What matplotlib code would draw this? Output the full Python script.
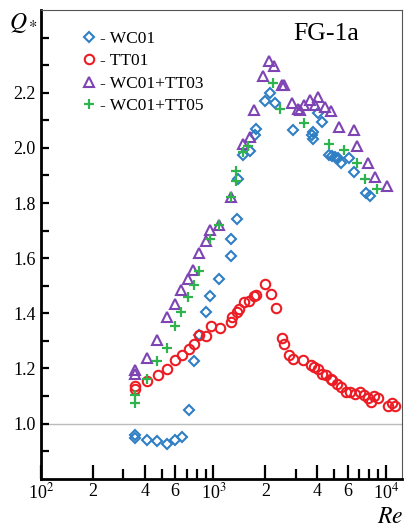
import matplotlib
matplotlib.use("Agg")
import matplotlib.pyplot as plt
from matplotlib.ticker import NullFormatter

plt.rcParams['font.family'] = ['Liberation Serif', 'DejaVu Serif']
plt.rcParams['mathtext.fontset'] = 'stix'

# WC01
wc01_re = [351, 351, 410, 472, 536, 597, 657, 719, 776, 829, 907, 956, 1084, 1268, 1268,
           1368, 1397, 1493, 1619, 1746, 1760, 1995, 2135, 2281, 2912, 3740, 3800, 3800,
           4067, 4260, 4650, 4860, 5070, 5300, 5510, 6080, 6500, 7690, 8040]
wc01_q = [0.958, 0.946, 0.939, 0.937, 0.925, 0.942, 0.951, 1.048, 1.227, 1.320, 1.405, 1.462,
          1.526, 1.607, 1.668, 1.742, 1.889, 1.974, 1.989, 2.046, 2.067, 2.170, 2.200, 2.162,
          2.065, 2.046, 2.058, 2.034, 2.125, 2.095, 1.974, 1.970, 1.968, 1.962, 1.944, 1.962,
          1.913, 1.835, 1.825]

# TT01
tt01_re = [351, 351, 410, 475, 536, 597, 661, 719, 776, 829, 907, 967, 1094, 1262, 1289, 1367,
           1409, 1513, 1612, 1723, 1754, 1995, 2153, 2291, 2495, 2572, 2761, 2890, 3318, 3676,
           3805, 4067, 4272, 4490, 4820, 4900, 5200, 5480, 5890, 6210, 6640, 7100, 7490, 7830,
           8190, 8480, 8950, 10230, 10850, 11230]
tt01_q = [1.125, 1.135, 1.155, 1.175, 1.198, 1.231, 1.249, 1.272, 1.290, 1.320, 1.317, 1.354,
          1.348, 1.369, 1.385, 1.405, 1.414, 1.440, 1.445, 1.462, 1.467, 1.508, 1.469, 1.421,
          1.312, 1.288, 1.250, 1.235, 1.231, 1.214, 1.206, 1.197, 1.181, 1.175, 1.163, 1.157,
          1.145, 1.133, 1.115, 1.115, 1.109, 1.114, 1.102, 1.091, 1.077, 1.099, 1.093, 1.065,
          1.075, 1.065]

# WC01+TT03
wt03_re = [351, 351, 410, 472, 536, 597, 651, 715, 765, 825, 907, 956, 1084, 1268, 1490, 1619,
           1720, 1950, 2113, 2250, 2495, 2570, 2850, 3110, 3185, 3330, 3640, 3890, 4035, 4450,
           4800, 5320, 6500, 6800, 7840, 8670, 10140]
wt03_q = [1.193, 1.180, 1.238, 1.302, 1.385, 1.433, 1.484, 1.524, 1.556, 1.619, 1.662, 1.702,
          1.722, 1.823, 2.016, 2.041, 2.138, 2.261, 2.316, 2.297, 2.228, 2.228, 2.162, 2.143,
          2.137, 2.155, 2.174, 2.155, 2.183, 2.149, 2.134, 2.077, 2.065, 2.007, 1.944, 1.895,
          1.861]

# WC01+TT05
wt05_re = [351, 351, 410, 472, 536, 597, 651, 715, 776, 825, 956, 1084, 1268, 1360, 1360, 1490,
           1590, 2229, 2438, 3330, 4650, 5680, 6800, 7590, 8870]
wt05_q = [1.103, 1.075, 1.160, 1.226, 1.274, 1.354, 1.403, 1.460, 1.502, 1.553, 1.668, 1.720,
          1.823, 1.916, 1.881, 1.986, 2.007, 2.234, 2.140, 2.089, 2.016, 1.992, 1.944, 1.886,
          1.850]

x_ticks = [100, 200, 400, 600, 1000, 2000, 4000, 6000, 10000]
x_tick_labels = ['10$^2$', '2', '4', '6', '10$^3$', '2', '4', '6', '10$^4$']
y_ticks = [1.0, 1.2, 1.4, 1.6, 1.8, 2.0, 2.2]
y_tick_labels = ['1.0', '1.2', '1.4', '1.6', '1.8', '2.0', '2.2']

fig = plt.figure(figsize=(4.04, 5.32), dpi=100)
ax = fig.add_axes([0.1015, 0.1002, 0.8935, 0.8808])

ax.axhline(1.0, color='#bbbbbb', lw=1.0, zorder=1)

ax.plot(wc01_re, wc01_q, ls='none', marker='D', ms=4.6, mfc='none', mec='#2f7fc4', mew=1.5,
        label='- WC01', zorder=3)
ax.plot(tt01_re, tt01_q, ls='none', marker='o', ms=6.8, mfc='none', mec='#ec1c24', mew=1.5,
        label='- TT01', zorder=3)
ax.plot(wt03_re, wt03_q, ls='none', marker='^', ms=7, mfc='none', mec='#7e44b4', mew=1.5,
        label='- WC01+TT03', zorder=3)
ax.plot(wt05_re, wt05_q, ls='none', marker='+', ms=6.5, mfc='none', mec='#2fb34c', mew=1.6,
        label='- WC01+TT05', zorder=3)

ax.set_xscale('log')
ax.set_xlim(100, 12400)
ax.set_ylim(0.8, 2.5)

minor_x = [m * 10 ** e for e in (2, 3) for m in range(2, 10)]
ax.set_xticks(x_ticks)
ax.set_xticklabels(x_tick_labels)
ax.set_xticks(minor_x, minor=True)
ax.xaxis.set_minor_formatter(NullFormatter())

ax.set_yticks(y_ticks)
ax.set_yticklabels(y_tick_labels)
ax.set_yticks([0.9 + 0.1 * i for i in range(16)], minor=True)

ax.tick_params(axis='both', which='major', direction='in', labelsize=13, width=1.6,
               color='black', top=False, right=False)
ax.tick_params(axis='x', which='major', length=10, pad=3)
ax.tick_params(axis='x', which='minor', direction='in', length=7, width=1.6, top=False)
ax.tick_params(axis='y', which='major', length=6, pad=4)
ax.tick_params(axis='y', which='minor', direction='in', length=6, width=1.6, right=False)

for side in ('left', 'bottom'):
    ax.spines[side].set_linewidth(2.0)
    ax.spines[side].set_color('black')
for side in ('top', 'right'):
    ax.spines[side].set_linewidth(0.8)
    ax.spines[side].set_color('#555555')

leg = ax.legend(loc='upper left', bbox_to_anchor=(0.095, 0.97), frameon=False, fontsize=12.5,
                handlelength=0.8, handletextpad=0.25, labelspacing=0.35, borderaxespad=0)

ax.text(0.88, 0.95, 'FG-1a', transform=ax.transAxes, fontsize=18.5, ha='right', va='center')
fig.text(0.058, 0.956, '$Q_*$', fontsize=17, ha='center', va='center')
fig.text(0.965, 0.027, '$Re$', fontsize=17, ha='center', va='center')

fig.savefig('out.png', dpi=100)
